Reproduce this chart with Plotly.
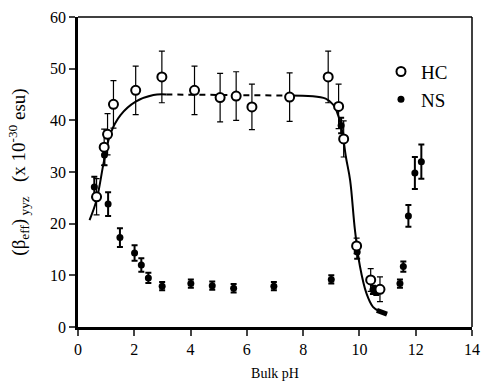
import plotly.graph_objects as go

# HC (open circles)
hc_x = [0.66, 0.93, 1.05, 1.26, 2.05, 2.98, 4.14, 5.05, 5.62, 6.18, 7.52, 8.89, 9.26, 9.44, 9.90, 10.40, 10.73]
hc_y = [25.2, 34.8, 37.3, 43.1, 45.8, 48.4, 45.8, 44.4, 44.7, 42.6, 44.5, 48.4, 42.7, 36.4, 15.7, 9.1, 7.3]
hc_err = [3.5, 3.5, 4.0, 4.6, 4.7, 5.0, 4.7, 4.7, 4.7, 4.4, 4.7, 5.0, 4.3, 3.5, 1.5, 2.2, 2.4]

# NS (filled circles)
ns_x = [0.58, 0.94, 1.07, 1.49, 2.01, 2.25, 2.50, 2.99, 4.01, 4.77, 5.53, 6.96, 9.00, 9.35, 9.92, 10.48, 10.60, 11.44, 11.56, 11.74, 11.97, 12.20]
ns_y = [27.1, 33.3, 23.8, 17.3, 14.3, 12.0, 9.5, 7.9, 8.4, 8.0, 7.5, 7.9, 9.2, 39.0, 14.5, 7.2, 7.0, 8.4, 11.7, 21.5, 29.8, 32.0]
ns_err = [2.0, 2.0, 2.3, 1.8, 1.5, 1.3, 1.0, 0.8, 0.8, 0.8, 0.8, 0.8, 0.8, 1.5, 1.3, 0.8, 0.8, 0.8, 1.0, 2.1, 3.1, 3.3]

# fitted curve
fit_left_x = [0.41, 0.66, 0.93, 1.16, 1.51, 2.05, 2.68, 3.14]
fit_left_y = [20.7, 24.6, 32.3, 37.5, 41.0, 43.6, 44.9, 45.0]
fit_mid_x = [3.14, 7.52]
fit_mid_y = [45.0, 44.8]
fit_right_x = [7.52, 8.80, 9.09, 9.26, 9.38, 9.52, 9.67, 9.84, 10.02, 10.25, 10.48, 10.72, 10.98]
fit_right_y = [44.8, 44.2, 42.9, 40.7, 38.1, 32.9, 28.4, 18.8, 11.7, 6.5, 3.9, 3.0, 2.5]
blob_x = [10.62, 10.98]
blob_y = [3.2, 2.5]

x_ticks = [0, 2, 4, 6, 8, 10, 12, 14]
y_ticks = [0, 10, 20, 30, 40, 50, 60]

FONT = "Times New Roman, Liberation Serif, DejaVu Serif, serif"

fig = go.Figure()
fig.add_trace(go.Scatter(x=fit_left_x, y=fit_left_y, mode="lines", line=dict(color="black", width=2, shape="spline"), showlegend=False, hoverinfo="skip"))
fig.add_trace(go.Scatter(x=fit_mid_x, y=fit_mid_y, mode="lines", line=dict(color="black", width=2, dash="6px,5px"), showlegend=False, hoverinfo="skip"))
fig.add_trace(go.Scatter(x=fit_right_x, y=fit_right_y, mode="lines", line=dict(color="black", width=2, shape="spline"), showlegend=False, hoverinfo="skip"))
fig.add_trace(go.Scatter(x=blob_x, y=blob_y, mode="lines", line=dict(color="black", width=5), showlegend=False, hoverinfo="skip"))

fig.add_trace(go.Scatter(
    x=ns_x, y=ns_y, mode="markers", name="NS",
    marker=dict(symbol="circle", size=7, color="black"),
    error_y=dict(type="data", array=ns_err, visible=True, color="black", thickness=2, width=3),
))
fig.add_trace(go.Scatter(
    x=hc_x, y=hc_y, mode="markers", name="HC",
    marker=dict(symbol="circle", size=9, color="white", line=dict(color="black", width=2)),
    error_y=dict(type="data", array=hc_err, visible=True, color="black", thickness=1.2, width=3),
))

fig.update_layout(
    width=488, height=388,
    margin=dict(l=78, r=8, t=17, b=61),
    paper_bgcolor="white", plot_bgcolor="white",
    font=dict(family=FONT, size=16, color="black"),
    legend=dict(x=0.769, y=0.885, xanchor="left", yanchor="top", traceorder="reversed",
                font=dict(family=FONT, size=19), bgcolor="rgba(0,0,0,0)", itemwidth=30),
    xaxis=dict(range=[0, 14], tickvals=x_ticks, ticks="outside", ticklen=6, tickwidth=2,
               tickfont=dict(family=FONT, size=16),
               showline=True, linewidth=2.5, linecolor="black", showgrid=False, zeroline=False,
               title=dict(text="Bulk pH", font=dict(family=FONT, size=14), standoff=12)),
    yaxis=dict(range=[0, 60], tickvals=y_ticks, ticks="outside", ticklen=6, tickwidth=2,
               tickfont=dict(family=FONT, size=16),
               showline=True, linewidth=2.5, linecolor="black", showgrid=False, zeroline=False,
               title=dict(text="(β<sub>eff</sub>)<sub> yyz</sub>   (x 10<sup>-30</sup> esu)", font=dict(family=FONT, size=19), standoff=20)),
    shapes=[
        dict(type="line", xref="paper", yref="paper", x0=0, x1=1, y0=1, y1=1, line=dict(color="black", width=1.5)),
        dict(type="line", xref="paper", yref="paper", x0=1, x1=1, y0=0, y1=1, line=dict(color="black", width=1.5)),
    ],
)

fig.write_html("out.html")
